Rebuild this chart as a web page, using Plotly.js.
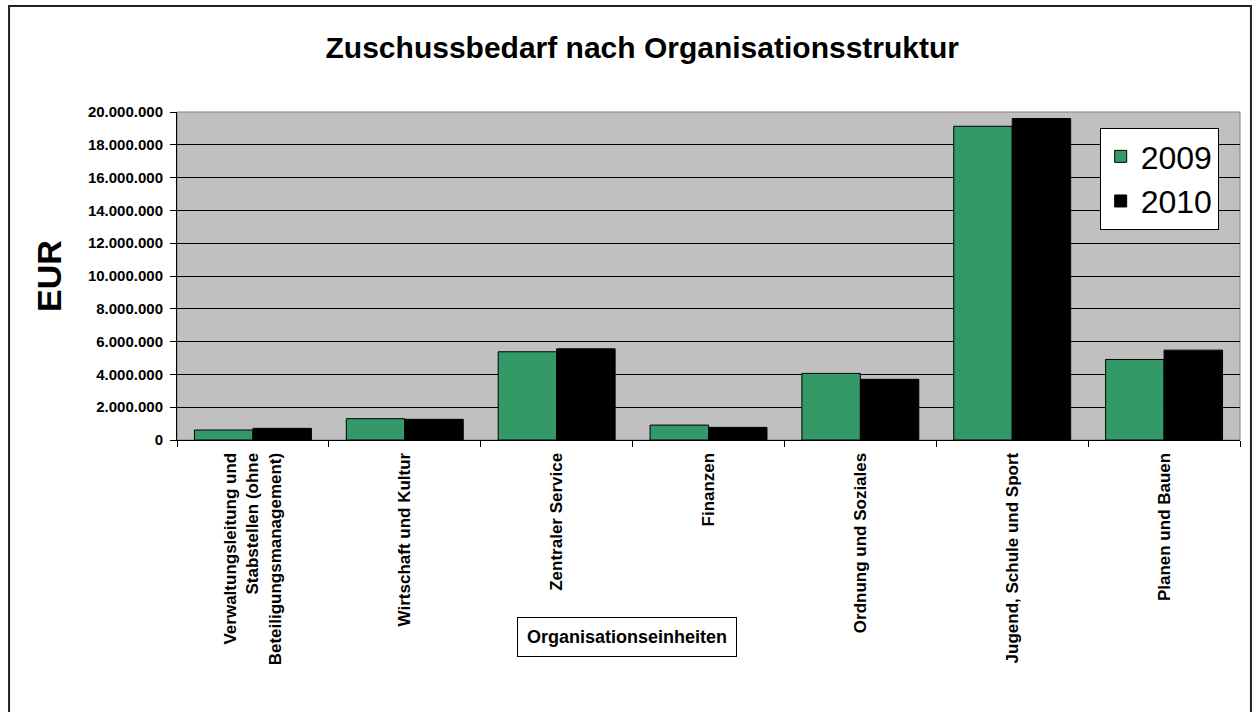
<!DOCTYPE html>
<html>
<head>
<meta charset="utf-8">
<script src="https://cdn.plot.ly/plotly-3.0.1.min.js"></script>
<style>
  html, body { margin: 0; padding: 0; background: #ffffff; }
  #chart { width: 1252px; height: 712px; }
</style>
</head>
<body>
<div id="chart"></div>
<script>
const categories = [
  "Verwaltungsleitung und<br>Stabstellen (ohne<br>Beteiligungsmanagement)",
  "Wirtschaft und Kultur",
  "Zentraler Service",
  "Finanzen",
  "Ordnung und Soziales",
  "Jugend, Schule und Sport",
  "Planen und Bauen"
];
const seriesNames = ["2009", "2010"];
const values2009 = [610000, 1300000, 5380000, 910000, 4060000, 19130000, 4910000];
const values2010 = [710000, 1260000, 5560000, 770000, 3700000, 19600000, 5480000];
const yTickValues = [0, 2000000, 4000000, 6000000, 8000000, 10000000, 12000000, 14000000, 16000000, 18000000, 20000000];

const FONT = "Liberation Sans, Arial, sans-serif";

const traces = [
  {
    type: "bar", name: seriesNames[0], x: categories, y: values2009,
    marker: { color: "#339966", line: { color: "#000000", width: 1 } }
  },
  {
    type: "bar", name: seriesNames[1], x: categories, y: values2010,
    marker: { color: "#000000", line: { color: "#000000", width: 1 } }
  }
];

const layout = {
  width: 1252, height: 712,
  margin: { l: 177, r: 12, t: 112, b: 272, autoexpand: false },
  paper_bgcolor: "#ffffff",
  plot_bgcolor: "#c0c0c0",
  separators: ",.",
  font: { family: FONT, color: "#000000" },
  barmode: "group",
  bargap: 0.23,
  bargroupgap: 0,
  showlegend: true,
  title: {
    text: "<b>Zuschussbedarf nach Organisationsstruktur</b>",
    font: { family: FONT, size: 30, color: "#000000" },
    x: 0.513, xref: "container", xanchor: "center",
    y: 0.933, yref: "container", yanchor: "middle"
  },
  xaxis: {
    type: "category",
    tickangle: -90,
    tickfont: { family: FONT, size: 17, color: "#000000", weight: "bold" },
    ticks: "outside", ticklen: 6, tickcolor: "#000000",
    tickson: "boundaries",
    ticklabelstandoff: 5,
    showline: true, linecolor: "#000000", linewidth: 1,
    showgrid: false, zeroline: false,
    automargin: false, fixedrange: true
  },
  yaxis: {
    range: [0, 20000000],
    tickvals: yTickValues,
    tickformat: ",d",
    tickfont: { family: FONT, size: 15, color: "#000000", weight: "bold" },
    ticks: "outside", ticklen: 6, tickcolor: "#000000",
    ticklabelstandoff: 4,
    showline: true, linecolor: "#000000", linewidth: 1,
    showgrid: true, gridcolor: "#000000", gridwidth: 1,
    zeroline: false,
    title: {
      text: "<b>EUR</b>",
      font: { family: FONT, size: 34, color: "#000000" },
      standoff: 16
    },
    automargin: false, fixedrange: true
  },
  legend: {
    x: 0.868, y: 0.951, xanchor: "left", yanchor: "top",
    bgcolor: "#ffffff", bordercolor: "#000000", borderwidth: 1,
    font: { family: FONT, size: 32, color: "#000000" },
    tracegroupgap: 0
  },
  shapes: [
    {
      type: "rect", xref: "paper", yref: "paper",
      x0: 0, x1: 1, y0: 0, y1: 1,
      line: { color: "#808080", width: 1 }, fillcolor: "rgba(0,0,0,0)", layer: "below"
    },
    {
      type: "rect", xref: "paper", yref: "paper",
      x0: -0.158, x1: 1.0103, y0: -0.84, y1: 1.323,
      line: { color: "#222222", width: 2 }, fillcolor: "rgba(0,0,0,0)"
    }
  ],
  annotations: [
    {
      text: "<b>Organisationseinheiten</b>",
      xref: "paper", yref: "paper",
      x: (627 - 177) / 1063, y: (440 - 637) / 328,
      xanchor: "center", yanchor: "middle",
      showarrow: false,
      font: { family: FONT, size: 18, color: "#000000" },
      bgcolor: "#ffffff", bordercolor: "#000000", borderwidth: 1, borderpad: 9
    }
  ]
};

Plotly.newPlot("chart", traces, layout, { displayModeBar: false, staticPlot: true });
</script>
</body>
</html>
